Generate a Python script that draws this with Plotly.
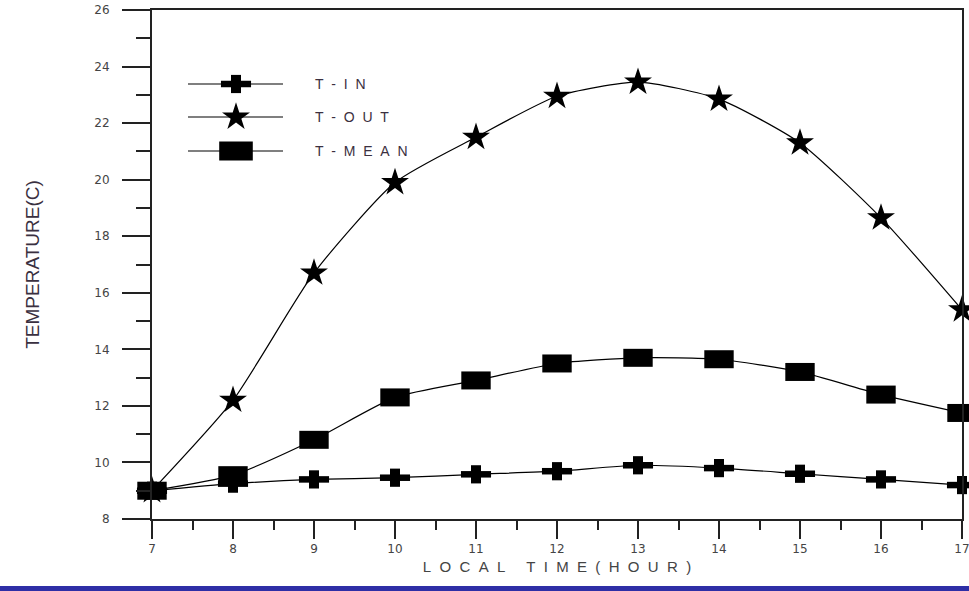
import plotly.graph_objects as go

hours = [7, 8, 9, 10, 11, 12, 13, 14, 15, 16, 17]
t_in = [9.0, 9.25, 9.4, 9.46, 9.58, 9.69, 9.9, 9.8, 9.6, 9.4, 9.2]
t_out = [9.0, 12.2, 16.7, 19.9, 21.5, 22.95, 23.45, 22.85, 21.3, 18.65, 15.4]
t_mean = [9.0, 9.55, 10.8, 12.3, 12.9, 13.5, 13.7, 13.65, 13.2, 12.4, 11.75]
series_names = ["T-IN", "T-OUT", "T-MEAN"]
x_ticks = list(range(7, 18))
y_ticks = list(range(8, 27, 2))

TXT = "#3b3040"
FONT = "Liberation Sans, Arial, sans-serif"
NB = "\u00a0"


def spaced(s, gap=2, word=1):
    out = []
    for ch in s:
        if ch == " ":
            out.append(NB * word)
        else:
            out.append(ch)
    return (NB * gap).join(out)


LINE = dict(color="black", width=1.2, shape="spline", smoothing=0.6)
# marker styles (line-ew / line-ns length = 1.4 * size)
PLUS_H = dict(symbol="line-ew", size=21.5, line=dict(color="black", width=6.5))
PLUS_V = dict(symbol="line-ns", size=13, line=dict(color="black", width=10))
STAR = dict(symbol="star", size=21, color="black", line=dict(width=0))
SQUARE = dict(symbol="line-ew", size=21, line=dict(color="black", width=18))

fig = go.Figure()

fig.add_trace(go.Scatter(x=hours, y=t_in, mode="lines+markers", line=LINE, marker=PLUS_H,
                         cliponaxis=False, showlegend=False, name=series_names[0]))
fig.add_trace(go.Scatter(x=hours, y=t_in, mode="markers", marker=PLUS_V,
                         cliponaxis=False, showlegend=False, name=series_names[0]))
fig.add_trace(go.Scatter(x=hours, y=t_out, mode="lines+markers", line=LINE, marker=STAR,
                         cliponaxis=False, showlegend=False, name=series_names[1]))
fig.add_trace(go.Scatter(x=hours, y=t_mean, mode="lines+markers", line=LINE, marker=SQUARE,
                         cliponaxis=False, showlegend=False, name=series_names[2]))

# Custom legend on an overlay pixel-like axis
leg_y = [84, 117, 151]
leg_markers = [[PLUS_H, PLUS_V], [STAR], [dict(SQUARE, size=24, line=dict(color="black", width=19))]]
for i, name in enumerate(series_names):
    fig.add_trace(go.Scatter(x=[188, 283], y=[leg_y[i], leg_y[i]], mode="lines",
                             line=dict(color="black", width=1.2), xaxis="x2", yaxis="y2",
                             showlegend=False, hoverinfo="skip"))
    for mk in leg_markers[i]:
        fig.add_trace(go.Scatter(x=[236], y=[leg_y[i]], mode="markers", xaxis="x2", yaxis="y2",
                                 marker=mk, showlegend=False, hoverinfo="skip", cliponaxis=False))
    fig.add_annotation(x=313, y=leg_y[i], xref="x2", yref="y2", text=spaced(name), showarrow=False,
                       xanchor="left", yanchor="middle",
                       font=dict(family=FONT, size=14, color=TXT))

fig.update_layout(
    width=969, height=591,
    margin=dict(l=152, r=7, t=10, b=72),
    paper_bgcolor="white", plot_bgcolor="white",
    font=dict(family=FONT, color=TXT),
    xaxis=dict(range=[7, 17], tickmode="array", tickvals=x_ticks,
               ticktext=[str(v) for v in x_ticks], automargin=False, ticklabeloverflow="allow",
               showgrid=False, zeroline=False, showline=True, linecolor="#222", linewidth=2,
               mirror=True, ticks="outside", ticklen=18, tickwidth=2, tickcolor="#222",
               minor=dict(dtick=0.5, ticks="outside", ticklen=9, tickwidth=2, tickcolor="#222"),
               tickfont=dict(family="DejaVu Sans, Liberation Sans", size=12, color="#444"),
               title=dict(text=spaced("LOCAL TIME(HOUR)"), font=dict(size=15, color="#444"), standoff=6)),
    yaxis=dict(range=[8, 26], tickmode="array", tickvals=y_ticks,
               ticktext=[str(v) for v in y_ticks], automargin=False,
               showgrid=False, zeroline=False, showline=True, linecolor="#222", linewidth=2,
               mirror=True, ticks="outside", ticklen=28, tickwidth=2, tickcolor="#222",
               minor=dict(dtick=1, ticks="outside", ticklen=14, tickwidth=2, tickcolor="#222"),
               tickfont=dict(family="DejaVu Sans, Liberation Sans", size=12, color="#444"),
               ticklabelstandoff=10,
               title=dict(text="TEMPERATURE(C)", font=dict(family=FONT, size=19, color="#3a3040"), standoff=50)),
    xaxis2=dict(range=[152, 962], overlaying="x", visible=False, fixedrange=True),
    yaxis2=dict(range=[519, 10], overlaying="y", visible=False, fixedrange=True),
    shapes=[dict(type="rect", xref="paper", yref="paper", x0=-0.2, x1=1.02, y0=-0.16, y1=-0.1316,
                 fillcolor="#2e2ea6", line=dict(width=0), layer="above")],
)

fig.write_html("out.html", config={"displayModeBar": False},
               post_script="document.body.style.margin='0';document.body.style.overflow='hidden';")
